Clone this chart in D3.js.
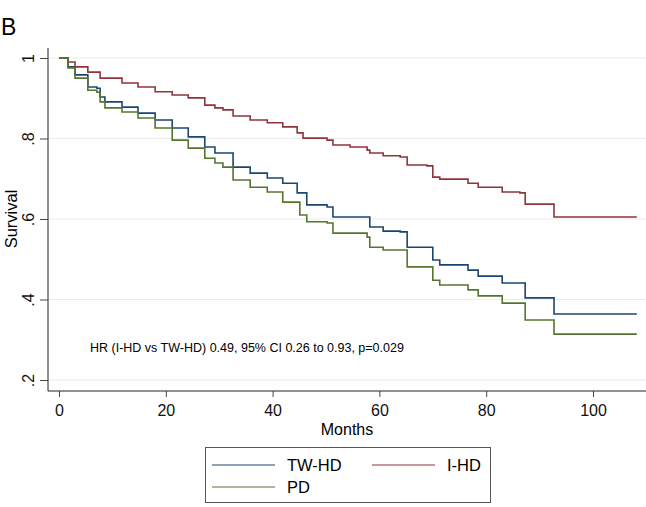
<!DOCTYPE html>
<html>
<head>
<meta charset="utf-8">
<script src="https://cdn.jsdelivr.net/npm/d3@7"></script>
<style>
  body { margin: 0; background: #fff; }
  svg { font-family: "Liberation Sans", Arial, sans-serif; }
</style>
</head>
<body>
<div id="chart"></div>
<script>
'use strict';

var width = 646;
var height = 507;

// Kaplan-Meier step points: [month, survival]
var twhd = [
  [0, 1], [1.7, 0.978], [3.0, 0.958], [5.4, 0.928], [7.1, 0.925], [7.7, 0.903], [8.6, 0.891],
  [11.8, 0.878], [14.8, 0.863], [18.0, 0.846], [21.2, 0.826], [24.2, 0.804], [27.3, 0.779],
  [29.2, 0.764], [32.6, 0.729], [35.8, 0.714], [39.0, 0.702], [41.9, 0.689], [44.6, 0.665],
  [46.4, 0.635], [50.2, 0.63], [51.3, 0.605], [58.2, 0.58], [60.7, 0.57], [63.9, 0.568],
  [65.2, 0.53], [70.0, 0.498], [71.3, 0.486], [76.6, 0.473], [78.5, 0.458], [83.0, 0.441],
  [87.3, 0.404], [92.7, 0.364], [108.2, 0.364]
];
var ihd = [
  [0, 1], [1.7, 0.99], [3.0, 0.978], [5.4, 0.965], [7.7, 0.95], [11.8, 0.938], [14.8, 0.928],
  [18.0, 0.916], [21.2, 0.908], [24.2, 0.901], [27.3, 0.883], [29.2, 0.876], [30.7, 0.871],
  [32.6, 0.856], [35.8, 0.846], [39.0, 0.839], [41.9, 0.829], [44.6, 0.814], [45.7, 0.801],
  [50.2, 0.796], [51.3, 0.784], [54.5, 0.779], [57.7, 0.771], [58.2, 0.764], [60.7, 0.757],
  [63.9, 0.754], [65.2, 0.734], [68.9, 0.732], [70.0, 0.704], [71.3, 0.699], [76.6, 0.689],
  [78.5, 0.679], [83.0, 0.667], [86.3, 0.665], [87.3, 0.637], [92.7, 0.605], [108.2, 0.605]
];
var pd = [
  [0, 1], [1.7, 0.975], [3.0, 0.95], [5.4, 0.92], [7.1, 0.915], [7.7, 0.891], [8.6, 0.876],
  [11.8, 0.866], [14.8, 0.851], [18.0, 0.826], [21.2, 0.796], [24.2, 0.776], [27.3, 0.751],
  [29.2, 0.739], [30.7, 0.729], [32.6, 0.697], [35.8, 0.679], [39.0, 0.667], [41.9, 0.642],
  [45.1, 0.61], [46.4, 0.593], [50.2, 0.59], [51.3, 0.565], [57.7, 0.555], [58.2, 0.53],
  [60.7, 0.523], [65.2, 0.481], [70.0, 0.448], [71.3, 0.436], [76.6, 0.424], [78.5, 0.409],
  [83.0, 0.391], [87.3, 0.349], [92.7, 0.314], [108.2, 0.314]
];

var groups = ['TW-HD', 'I-HD', 'PD'];
var groupColors = ['#1a476f', '#90353b', '#55752f'];
var xTicks = [0, 20, 40, 60, 80, 100];
var yTicks = [0.2, 0.4, 0.6, 0.8, 1];
var yTickLabels = ['.2', '.4', '.6', '.8', '1'];
var note = 'HR (I-HD vs TW-HD) 0.49, 95% CI 0.26 to 0.93, p=0.029';

var plot = { left: 48, right: 646, top: 48, bottom: 391 };

var x = d3.scaleLinear().domain([0, 100]).range([59, 593]);
var y = d3.scaleLinear().domain([0.2, 1]).range([380, 58]);

var svg = d3.select('#chart').append('svg')
  .attr('width', width)
  .attr('height', height);

svg.append('text')
  .attr('x', 1).attr('y', 35)
  .attr('font-size', 23)
  .text('B');

// gridlines
svg.append('g').selectAll('line')
  .data(yTicks)
  .enter().append('line')
  .attr('x1', plot.left).attr('x2', plot.right)
  .attr('y1', function (d) { return y(d); })
  .attr('y2', function (d) { return y(d); })
  .attr('stroke', '#ebebeb')
  .attr('stroke-width', 1.2);

// y axis
var yAxis = svg.append('g')
  .attr('transform', 'translate(' + plot.left + ',0)')
  .call(d3.axisLeft(y).tickValues(yTicks).tickSize(8).tickPadding(0)
    .tickFormat(function (d, i) { return yTickLabels[i]; }));
yAxis.select('.domain').attr('d', 'M0,' + plot.top + 'V' + plot.bottom).attr('stroke', '#222');
yAxis.selectAll('.tick line').attr('stroke', '#444');
yAxis.selectAll('.tick text')
  .attr('transform', 'translate(-20,0) rotate(-90)')
  .attr('x', 0).attr('y', 0)
  .attr('dy', '0.35em')
  .attr('text-anchor', 'middle')
  .attr('font-size', 16)
  .attr('fill', '#111');

// x axis
var xAxis = svg.append('g')
  .attr('transform', 'translate(0,' + plot.bottom + ')')
  .call(d3.axisBottom(x).tickValues(xTicks).tickSize(6).tickPadding(8));
xAxis.select('.domain').attr('d', 'M' + plot.left + ',0H' + plot.right).attr('stroke', '#222');
xAxis.selectAll('.tick line').attr('stroke', '#444');
xAxis.selectAll('.tick text').attr('font-size', 16).attr('fill', '#111');

svg.append('text')
  .attr('transform', 'translate(17,219) rotate(-90)')
  .attr('text-anchor', 'middle')
  .attr('font-size', 16.5)
  .text('Survival');

svg.append('text')
  .attr('x', 347).attr('y', 435)
  .attr('text-anchor', 'middle')
  .attr('font-size', 16)
  .text('Months');

// curves
var line = d3.line()
  .x(function (d) { return x(d[0]); })
  .y(function (d) { return y(d[1]); })
  .curve(d3.curveStepAfter);

var series = [twhd, ihd, pd];
svg.append('g').selectAll('path')
  .data(series)
  .enter().append('path')
  .attr('d', line)
  .attr('fill', 'none')
  .attr('stroke', function (d, i) { return groupColors[i]; })
  .attr('stroke-width', 1.6);

svg.append('text')
  .attr('x', 90).attr('y', 352)
  .attr('font-size', 12.5)
  .text(note);

// legend
var legend = svg.append('g');
legend.append('rect')
  .attr('x', 205.5).attr('y', 447.5)
  .attr('width', 285).attr('height', 55)
  .attr('fill', '#fff')
  .attr('stroke', '#555');

var legendPos = [[212, 465], [372, 465], [212, 487]];
var item = legend.selectAll('g.item')
  .data(groups)
  .enter().append('g')
  .attr('class', 'item')
  .attr('transform', function (d, i) {
    return 'translate(' + legendPos[i][0] + ',' + legendPos[i][1] + ')';
  });
item.append('line')
  .attr('x1', 0).attr('x2', 63)
  .attr('stroke', function (d, i) { return groupColors[i]; })
  .attr('stroke-width', 1);
item.append('text')
  .attr('x', 75).attr('y', 0)
  .attr('dy', '0.36em')
  .attr('font-size', 16.5)
  .text(function (d) { return d; });
</script>
</body>
</html>
